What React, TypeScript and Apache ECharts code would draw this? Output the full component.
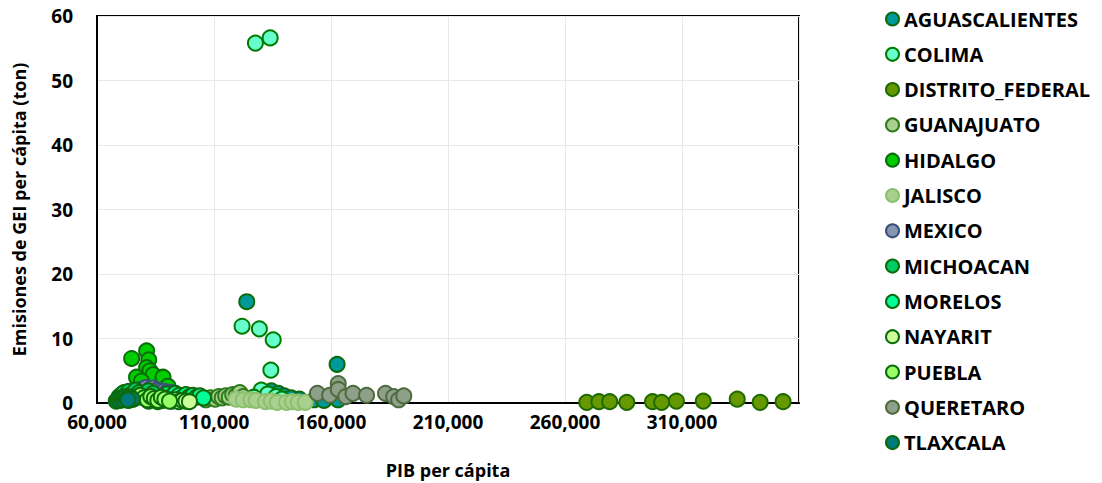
import React, { useEffect, useRef } from "react";
import * as echarts from "echarts";

// PIB per cápita (pesos) vs emisiones de GEI per cápita (ton), one series per state
const aguascalientes = [[124000, 15.7], [162600, 6.0], [134500, 1.9], [137500, 1.5], [140000, 1.1], [143000, 0.8], [146500, 0.6], [152800, 0.5], [157000, 0.4], [163000, 0.5], [131000, 1.2]];
const colima = [[127700, 55.8], [134000, 56.6], [122000, 11.9], [129400, 11.5], [135300, 9.8], [134300, 5.1], [130200, 2.0], [133000, 1.4], [136500, 1.0], [127000, 0.9], [139000, 0.6]];
const distritoFederal = [[269300, 0.1], [274500, 0.2], [279100, 0.2], [286400, 0.1], [297400, 0.2], [301300, 0.1], [307600, 0.3], [319100, 0.3], [333600, 0.6], [343400, 0.1], [353200, 0.2]];
const guanajuato = [[106500, 0.5], [108500, 0.8], [110500, 0.6], [112000, 1.0], [113500, 0.8], [115000, 1.1], [116500, 0.9], [118000, 1.3], [119500, 1.2], [121000, 1.6], [122500, 1.0]];
const hidalgo = [[74800, 6.9], [81200, 8.1], [82100, 6.7], [81200, 5.5], [82600, 5.0], [84000, 4.4], [88200, 4.0], [76900, 4.0], [79000, 3.4], [90300, 2.6], [92500, 1.5]];
const jalisco = [[119500, 0.6], [122500, 0.5], [125800, 0.5], [128000, 0.4], [132000, 0.2], [134500, 0.3], [137000, 0.1], [141000, 0.1], [143500, 0.2], [146000, 0.1], [149000, 0.1]];
const mexico = [[78000, 2.0], [79500, 2.2], [81000, 2.4], [82500, 2.1], [84000, 2.3], [85500, 2.0], [87000, 1.9], [88500, 1.8], [90000, 1.7], [91500, 1.6], [93000, 1.5]];
const michoacan = [[69500, 1.0], [70500, 1.3], [71500, 1.6], [72500, 1.2], [73500, 1.8], [75000, 1.4], [76500, 2.0], [78000, 1.6], [80000, 1.3], [82000, 1.9], [84000, 1.5]];
const morelos = [[90000, 1.4], [92000, 1.1], [93500, 1.5], [95000, 1.2], [96500, 0.9], [98000, 1.3], [99500, 1.0], [101000, 1.2], [102500, 0.9], [104000, 1.1], [105500, 0.8]];
const nayarit = [[82000, 0.3], [84000, 0.5], [86000, 0.2], [88000, 0.4], [90000, 0.6], [92000, 0.3], [93500, 0.5], [95000, 0.2], [96500, 0.4], [98000, 0.3], [99500, 0.2]];
const puebla = [[75500, 0.6], [77000, 0.9], [78500, 1.2], [80000, 0.8], [81500, 0.5], [83000, 1.0], [84500, 0.7], [86000, 0.4], [87500, 0.9], [89000, 0.6], [91000, 0.3]];
const queretaro = [[154200, 1.5], [159400, 1.2], [163100, 3.0], [163100, 2.1], [166300, 1.0], [169400, 1.5], [175200, 1.2], [183300, 1.5], [186800, 1.0], [188900, 0.5], [191100, 1.1]];
const tlaxcala = [[68200, 0.3], [69000, 0.6], [69800, 0.4], [70600, 0.8], [71400, 0.5], [72000, 1.0], [72800, 0.7], [73500, 0.4], [74200, 0.9], [75000, 0.6], [73200, 0.5]];

const stateNames = ["AGUASCALIENTES", "COLIMA", "DISTRITO_FEDERAL", "GUANAJUATO", "HIDALGO", "JALISCO", "MEXICO", "MICHOACAN", "MORELOS", "NAYARIT", "PUEBLA", "QUERETARO", "TLAXCALA"];
const stateData = [aguascalientes, colima, distritoFederal, guanajuato, hidalgo, jalisco, mexico, michoacan, morelos, nayarit, puebla, queretaro, tlaxcala];
const fillColors = ["#009999", "#66FFCC", "#669900", "#A9D18E", "#00CC00", "#A9D08E", "#8497B0", "#00CC66", "#00FF99", "#CCFF99", "#99FF66", "#8FA08A", "#007A7A"];
const borderColors = ["#0B6B0B", "#007A00", "#1F6B00", "#2E7A1E", "#0B6B0B", "#8CBF6E", "#3B4F7A", "#0B6B0B", "#0B6B0B", "#0B6B0B", "#0B6B0B", "#4E6B3E", "#0B6B0B"];

const FONT = "'Open Sans', sans-serif";

export default function App() {
  const ref = useRef<HTMLDivElement>(null);

  useEffect(() => {
    if (!ref.current) return;
    const chart = echarts.init(ref.current, undefined, { renderer: "svg" });
    chart.setOption({
      animation: false,
      backgroundColor: "#fff",
      textStyle: { fontFamily: FONT },
      grid: {
        left: 97,
        top: 16,
        right: 303,
        bottom: 80,
        outerBoundsMode: "none",
        containLabel: false,
        show: true,
        borderColor: "#000",
        borderWidth: 2,
      },
      xAxis: {
        type: "value",
        min: 60000,
        max: 360000,
        interval: 50000,
        name: "PIB per cápita",
        nameLocation: "middle",
        nameGap: 58,
        nameMoveOverlap: false,
        nameTextStyle: { fontFamily: FONT, fontWeight: "bold", fontSize: 18, color: "#000" },
        axisLine: { show: true, lineStyle: { color: "#000", width: 2 } },
        axisTick: { show: false },
        axisLabel: {
          fontFamily: FONT,
          fontWeight: "bold",
          fontSize: 19,
          lineHeight: 16,
          color: "#000",
          margin: 11,
          showMaxLabel: false,
          formatter: (v: number) => v.toLocaleString("en-US"),
        },
        splitLine: { show: true, lineStyle: { color: "#E8E8E8", width: 1 } },
      },
      yAxis: {
        type: "value",
        min: 0,
        max: 60,
        interval: 10,
        name: "Emisiones de GEI per cápita (ton)",
        nameLocation: "middle",
        nameGap: 69,
        nameMoveOverlap: false,
        nameTextStyle: { fontFamily: FONT, fontWeight: "bold", fontSize: 18, color: "#000" },
        axisLine: { show: true, lineStyle: { color: "#000", width: 2 } },
        axisTick: { show: false },
        axisLabel: { fontFamily: FONT, fontWeight: "bold", fontSize: 19, lineHeight: 14, color: "#000", margin: 24 },
        splitLine: { show: true, lineStyle: { color: "#E8E8E8", width: 1 } },
      },
      legend: {
        orient: "vertical",
        left: 885,
        top: 9,
        padding: 0,
        itemWidth: 13,
        itemHeight: 13,
        itemGap: 15.3,
        icon: "circle",
        textStyle: { fontFamily: FONT, fontWeight: "bold", fontSize: 20, color: "#000", lineHeight: 19 },
        data: stateNames,
      },
      series: stateNames.map((name, i) => ({
        name,
        type: "scatter",
        data: stateData[i],
        symbol: "circle",
        symbolSize: 15,
        clip: false,
        itemStyle: { color: fillColors[i], borderColor: borderColors[i], borderWidth: 2, opacity: 1 },
      })),
    });
    return () => chart.dispose();
  }, []);

  return <div ref={ref} style={{ position: "absolute", left: 0, top: 0, width: 1102, height: 483 }} />;
}
